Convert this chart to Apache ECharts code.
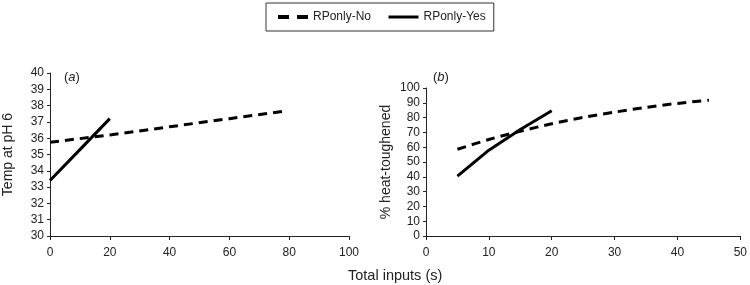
<!DOCTYPE html>
<html><head><meta charset="utf-8">
<script src="https://cdn.jsdelivr.net/npm/echarts@6/dist/echarts.min.js"></script>
<style>html,body{margin:0;padding:0;background:#fff}#c{width:750px;height:285px}</style>
</head><body><div id="c"></div>
<script>
const seriesNames = ['RPonly-No', 'RPonly-Yes'];
// Panel (a): Temp at pH 6 vs total inputs
const aNoX = [0, 20, 40, 60, 78];
const aNoY = [35.75, 36.2, 36.7, 37.2, 37.65];
const aYesX = [0, 10, 20];
const aYesY = [33.4, 35.3, 37.2];
// Panel (b): % heat-toughened vs total inputs
const bNoX = [5, 10, 15, 20, 25, 30, 35, 40, 45];
const bNoY = [58.6, 65.2, 70.8, 75.8, 80.1, 83.7, 86.9, 89.6, 91.8];
const bYesX = [5, 10, 15, 20];
const bYesY = [40.5, 58, 72, 84.6];
const yNameA = 'Temp at pH 6';
const yNameB = '% heat-toughened';
const xName = 'Total inputs (s)';

const zip = (xs, ys) => xs.map((x, i) => [x, ys[i]]);
const font = 'Liberation Sans, Arial, sans-serif';
const axCol = '#222';
const lab = {color: '#222', fontSize: 12, fontFamily: font};

const chart = echarts.init(document.getElementById('c'), null, {renderer: 'canvas'});
const baseX = {
  type: 'value', axisLine: {show: true, lineStyle: {color: axCol, width: 1}},
  axisTick: {show: true, length: 4, lineStyle: {color: axCol}},
  splitLine: {show: false}, axisLabel: Object.assign({margin: 11}, lab)
};
const baseY = {
  type: 'value', axisLine: {show: true, lineStyle: {color: axCol, width: 1}},
  axisTick: {show: true, length: 3, lineStyle: {color: axCol}},
  splitLine: {show: false}, axisLabel: Object.assign({margin: 6}, lab),
  nameLocation: 'middle', nameTextStyle: {color: '#222', fontSize: 14, fontFamily: font}
};
const dashed = {color: '#000', width: 3, type: [9, 6]};
const solid = {color: '#000', width: 3, type: 'solid'};
const rich = {i: {fontStyle: 'italic', fontSize: 13, color: '#222', fontFamily: font}};
chart.setOption({
  animation: false,
  legend: {
    data: [
      {name: seriesNames[0], lineStyle: {width: 4, type: [11, 8], color: '#000'}},
      {name: seriesNames[1], lineStyle: {width: 3, type: 'solid', color: '#000'}}
    ],
    left: 266, top: 3, orient: 'horizontal',
    padding: [8, 8, 8, 10], itemGap: 16, itemWidth: 30, itemHeight: 14,
    borderColor: '#333', borderWidth: 1,
    itemStyle: {opacity: 0},
    textStyle: {color: '#222', fontSize: 12, fontFamily: font}
  },
  title: [
    {text: '({i|a})', left: 59, top: 66, textStyle: {fontSize: 13, fontWeight: 'normal', color: '#222', fontFamily: font, rich: rich}},
    {text: '({i|b})', left: 428, top: 66, textStyle: {fontSize: 13, fontWeight: 'normal', color: '#222', fontFamily: font, rich: rich}}
  ],
  graphic: [
    {type: 'text', left: 348, top: 268, style: {text: xName, fontSize: 14.5, fill: '#222', fontFamily: font}}
  ],
  grid: [
    {left: 49, width: 300, top: 73, height: 163},
    {left: 426, width: 317, top: 88, height: 148}
  ],
  xAxis: [
    Object.assign({}, baseX, {gridIndex: 0, min: 0, max: 100, interval: 20}),
    Object.assign({}, baseX, {gridIndex: 1, min: 0, max: 50, interval: 10})
  ],
  yAxis: [
    Object.assign({}, baseY, {gridIndex: 0, min: 30, max: 40, interval: 1, name: yNameA, nameGap: 35}),
    Object.assign({}, baseY, {gridIndex: 1, min: 0, max: 100, interval: 10, name: yNameB, nameGap: 33})
  ],
  series: [
    {name: seriesNames[0], type: 'line', xAxisIndex: 0, yAxisIndex: 0, data: zip(aNoX, aNoY), symbol: 'none', lineStyle: dashed, itemStyle: {color: '#000'}},
    {name: seriesNames[1], type: 'line', xAxisIndex: 0, yAxisIndex: 0, data: zip(aYesX, aYesY), symbol: 'none', lineStyle: solid, itemStyle: {color: '#000'}},
    {name: seriesNames[0], type: 'line', xAxisIndex: 1, yAxisIndex: 1, data: zip(bNoX, bNoY), symbol: 'none', smooth: 0.3, lineStyle: dashed, itemStyle: {color: '#000'}},
    {name: seriesNames[1], type: 'line', xAxisIndex: 1, yAxisIndex: 1, data: zip(bYesX, bYesY), symbol: 'none', lineStyle: solid, itemStyle: {color: '#000'}}
  ]
});
</script></body></html>
